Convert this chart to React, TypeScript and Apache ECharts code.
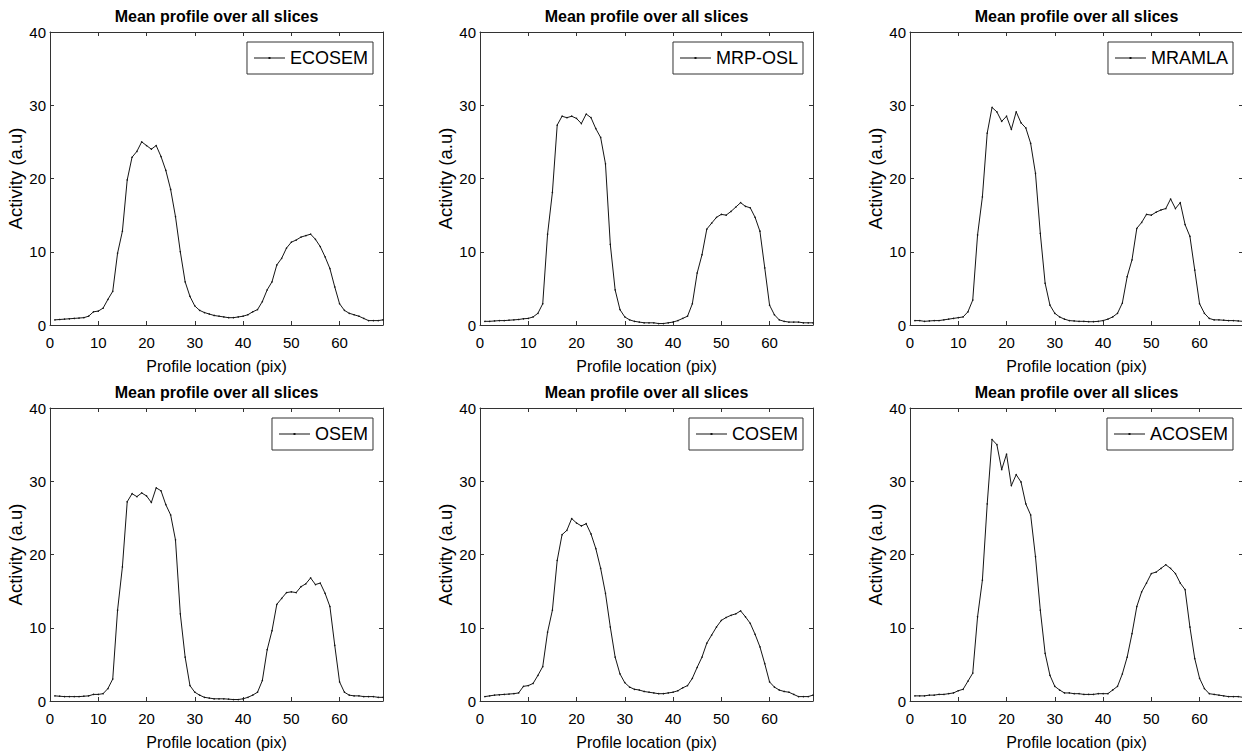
import React, { useEffect, useRef } from "react";
import * as echarts from "echarts";

const xPositions: number[] = Array.from({ length: 69 }, (_, i) => i + 1);

const methodNames: string[] = ["ECOSEM", "MRP-OSL", "MRAMLA", "OSEM", "COSEM", "ACOSEM"];

const ecosem: number[] = [
  0.7, 0.75, 0.8, 0.85, 0.9, 0.95, 1.0, 1.2, 1.8, 1.9,
  2.3, 3.5, 4.6, 9.8, 12.8, 19.8, 22.9, 23.7, 25.0, 24.5,
  24.0, 24.5, 23.0, 21.1, 18.5, 14.8, 10.0, 5.9, 3.9, 2.6,
  2.0, 1.7, 1.5, 1.3, 1.2, 1.1, 1.0, 1.0, 1.1, 1.2,
  1.4, 1.8, 2.1, 3.2, 4.8, 5.9, 8.2, 9.1, 10.5, 11.3,
  11.6, 12.0, 12.2, 12.4, 11.7, 10.7, 9.3, 7.7, 5.2, 2.9,
  2.0, 1.6, 1.4, 1.2, 0.9, 0.6, 0.6, 0.6, 0.7,
];

const mrpOsl: number[] = [
  0.5, 0.5, 0.55, 0.6, 0.6, 0.65, 0.7, 0.75, 0.85, 0.9,
  1.1, 1.6, 2.9, 12.4, 18.1, 27.3, 28.5, 28.3, 28.5, 28.2,
  27.5, 28.8, 28.3, 26.8, 25.6, 22.0, 11.0, 4.8, 2.1, 1.1,
  0.7, 0.5, 0.4, 0.3, 0.3, 0.3, 0.2, 0.2, 0.3, 0.4,
  0.6, 0.9, 1.2, 2.9, 7.1, 9.6, 13.1, 13.9, 14.7, 15.1,
  15.0, 15.5, 16.1, 16.7, 16.2, 16.0, 14.7, 12.8, 7.8, 2.7,
  1.4, 0.7, 0.5, 0.4, 0.4, 0.4, 0.3, 0.3, 0.3,
];

const mramla: number[] = [
  0.6, 0.6, 0.5, 0.55, 0.6, 0.6, 0.7, 0.8, 0.9, 1.0,
  1.1, 1.8, 3.4, 12.3, 17.5, 26.2, 29.7, 29.1, 27.8, 28.5,
  26.7, 29.1, 27.6, 26.9, 24.8, 20.7, 12.5, 5.7, 2.7, 1.6,
  1.1, 0.8, 0.6, 0.55, 0.5, 0.5, 0.45, 0.45, 0.5, 0.6,
  0.8, 1.1, 1.6, 3.0, 6.6, 8.9, 13.2, 14.0, 15.1, 15.0,
  15.4, 15.7, 15.9, 17.2, 15.9, 16.7, 13.7, 12.1, 7.5, 2.9,
  1.6, 0.9, 0.7, 0.7, 0.65, 0.6, 0.6, 0.55, 0.5,
];

const osem: number[] = [
  0.7, 0.65, 0.6, 0.6, 0.6, 0.6, 0.65, 0.7, 0.9, 0.9,
  1.0, 1.7, 3.0, 12.4, 18.3, 27.2, 28.3, 27.9, 28.4, 28.0,
  27.1, 29.1, 28.7, 26.8, 25.4, 22.0, 11.9, 6.0, 2.1, 1.2,
  0.8, 0.5, 0.4, 0.3, 0.3, 0.3, 0.25, 0.2, 0.2, 0.3,
  0.5, 0.8, 1.2, 2.8, 7.0, 9.6, 13.2, 14.0, 14.8, 14.9,
  14.8, 15.6, 16.0, 16.8, 15.9, 16.1, 14.7, 12.9, 7.6, 2.6,
  1.2, 0.8, 0.7, 0.7, 0.6, 0.6, 0.6, 0.5, 0.5,
];

const cosem: number[] = [
  0.6, 0.7, 0.8, 0.85, 0.9, 0.95, 1.0, 1.1, 2.0, 2.1,
  2.4, 3.5, 4.7, 9.4, 12.4, 19.2, 22.7, 23.3, 24.9, 24.3,
  23.9, 24.2, 22.8, 20.8, 18.1, 14.7, 10.1, 6.0, 3.7, 2.5,
  1.9, 1.6, 1.5, 1.3, 1.2, 1.1, 1.0, 1.0, 1.1, 1.2,
  1.4, 1.8, 2.1, 3.1, 4.6, 6.0, 7.9, 9.0, 10.1, 11.0,
  11.4, 11.7, 11.9, 12.3, 11.5, 10.6, 9.1, 7.4, 5.1, 2.6,
  1.9, 1.5, 1.3, 1.2, 0.9, 0.6, 0.6, 0.6, 0.8,
];

const acosem: number[] = [
  0.7, 0.7, 0.7, 0.8, 0.8, 0.9, 0.9, 1.0, 1.1, 1.4,
  1.6, 2.7, 3.8, 11.5, 16.5, 26.9, 35.7, 35.0, 31.6, 33.7,
  29.4, 30.9, 29.9, 26.9, 25.4, 19.7, 12.4, 6.5, 3.5, 2.0,
  1.5, 1.1, 1.1, 1.0, 1.0, 0.9, 0.9, 0.9, 1.0, 1.0,
  1.0, 1.5, 2.0, 3.7, 6.0, 9.2, 12.9, 14.9, 16.1, 17.4,
  17.6, 18.1, 18.6, 18.1, 17.4, 16.1, 15.2, 10.1, 5.8, 3.1,
  1.7, 1.0, 0.9, 0.8, 0.7, 0.6, 0.6, 0.6, 0.5,
];

const seriesValues: number[][] = [ecosem, mrpOsl, mramla, osem, cosem, acosem];

const xTickMin = 0;
const xTickMax = 69;
const xTickInterval = 10;
const yTickMin = 0;
const yTickMax = 40;
const yTickInterval = 10;

const titleText = "Mean profile over all slices";
const xAxisName = "Profile location (pix)";
const yAxisName = "Activity (a.u)";

const W = 1242;
const H = 756;
const FONT = "'Liberation Sans', Arial, Helvetica, sans-serif";
const FRAME = "#333333";
const LINE = "#141414";

const colLefts = [50, 480, 910];
const rowTops = [32, 408];
const plotW = 333;
const plotH = 293;

export default function App() {
  const ref = useRef<HTMLDivElement>(null);

  useEffect(() => {
    if (!ref.current) return;
    const chart = echarts.init(ref.current, undefined, { renderer: "svg", width: W, height: H });

    const grids: any[] = [];
    const xAxes: any[] = [];
    const yAxes: any[] = [];
    const titles: any[] = [];
    const legends: any[] = [];
    const series: any[] = [];

    methodNames.forEach((name, i) => {
      const r = Math.floor(i / 3);
      const c = i % 3;
      const left = colLefts[c];
      const top = rowTops[r];
      grids.push({ left, top, width: plotW, height: plotH, containLabel: false, outerBoundsMode: "none" });

      const tick = { show: true, inside: true, length: 4, lineStyle: { color: FRAME, width: 1 } };
      const line = { show: true, onZero: false, lineStyle: { color: FRAME, width: 1 } };

      xAxes.push({
        gridIndex: i, type: "value", position: "bottom",
        min: xTickMin, max: xTickMax, interval: xTickInterval,
        axisLine: line, axisTick: tick, splitLine: { show: false },
        axisLabel: { show: true, showMaxLabel: false, margin: 10, fontSize: 15, color: "#000", fontFamily: FONT,
          formatter: (v: number) => (v % 10 === 0 ? String(v) : "") },
        name: xAxisName, nameLocation: "middle", nameGap: 33,
        nameTextStyle: { fontSize: 16, color: "#000", fontFamily: FONT },
      });
      xAxes.push({
        gridIndex: i, type: "value", position: "top",
        min: xTickMin, max: xTickMax, interval: xTickInterval,
        axisLine: line, axisTick: tick, splitLine: { show: false },
        axisLabel: { show: false },
      });
      yAxes.push({
        gridIndex: i, type: "value", position: "left",
        min: yTickMin, max: yTickMax, interval: yTickInterval,
        axisLine: line, axisTick: tick, splitLine: { show: false },
        axisLabel: { show: true, margin: 4, fontSize: 15, color: "#000", fontFamily: FONT },
        name: yAxisName, nameLocation: "middle", nameGap: 21,
        nameTextStyle: { fontSize: 18.5, color: "#000", fontFamily: FONT },
      });
      yAxes.push({
        gridIndex: i, type: "value", position: "right",
        min: yTickMin, max: yTickMax, interval: yTickInterval,
        axisLine: line, axisTick: tick, splitLine: { show: false },
        axisLabel: { show: false },
      });

      titles.push({
        text: titleText, left: left + plotW / 2, top: top - 24, textAlign: "center", padding: 0,
        textStyle: { fontSize: 16, fontWeight: "bold", color: "#000", fontFamily: FONT },
      });

      legends.push({
        data: [name], right: W - (left + plotW - 10), top: top + 10,
        orient: "horizontal", padding: [7, 5, 7, 7], itemWidth: 31, itemHeight: 14, itemGap: 0,
        borderColor: FRAME, borderWidth: 1, backgroundColor: "#fff",
        icon: "path://M0,6.5 L31,6.5 L31,7.5 L0,7.5 Z M14.5,6 L16.5,6 L16.5,8 L14.5,8 Z",
        selectedMode: false,
        textStyle: { fontSize: 18, color: "#000", fontFamily: FONT, padding: [0, 0, 0, 0] },
      });

      series.push({
        name, type: "line", xAxisIndex: i * 2, yAxisIndex: i * 2,
        data: xPositions.map((x, k) => [x, seriesValues[i][k]]),
        showSymbol: true, symbol: "circle", symbolSize: 1.5,
        itemStyle: { color: LINE }, lineStyle: { color: LINE, width: 1 },
        smooth: false, clip: true,
      });
    });

    chart.setOption({
      animation: false,
      backgroundColor: "#fff",
      title: titles,
      legend: legends,
      grid: grids,
      xAxis: xAxes,
      yAxis: yAxes,
      series,
    });

    return () => chart.dispose();
  }, []);

  return <div ref={ref} style={{ position: "absolute", left: 0, top: 0, width: W, height: H }} />;
}
